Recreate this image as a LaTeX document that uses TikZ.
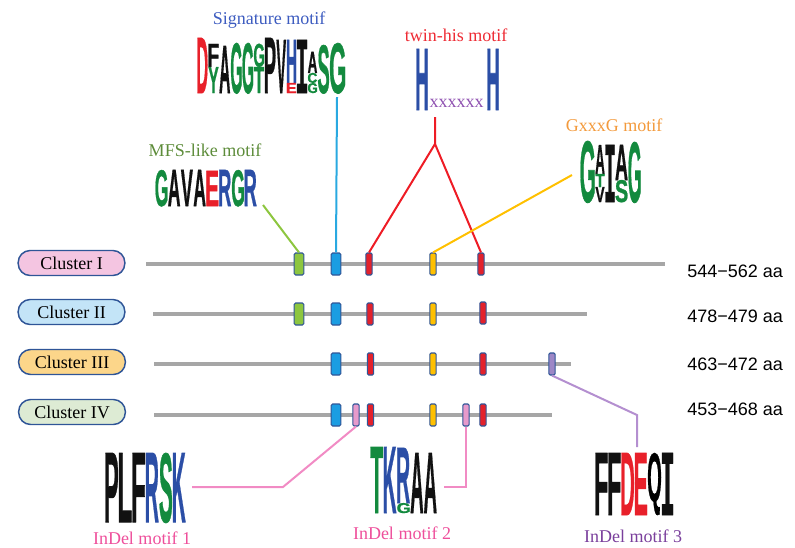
\documentclass[tikz,border=0pt]{standalone}
\usepackage{fontspec}
\usepackage{graphicx}
\setmainfont{Liberation Serif}
\newfontfamily\lsans{Liberation Sans}
\newfontfamily\lheavy{Liberation Sans}[FakeBold=1]
\newfontfamily\lmono{Liberation Mono}[FakeBold=1]
\newlength\pxu
\setlength\pxu{0.75pt}
\newsavebox\qbox
\definecolor{boxborder}{HTML}{2F5597}
\definecolor{graybar}{HTML}{A6A6A6}
\definecolor{mgreen}{HTML}{8DC63F}
\definecolor{mblue}{HTML}{1B9DE2}
\definecolor{mred}{HTML}{E3212B}
\definecolor{myellow}{HTML}{FFC000}
\definecolor{mpink}{HTML}{E79ACB}
\definecolor{mpurple}{HTML}{9D87C6}
\definecolor{lngreen}{HTML}{8DC63F}
\definecolor{lnblue}{HTML}{29A9E1}
\definecolor{lnred}{HTML}{EE1C25}
\definecolor{lnyellow}{HTML}{FFC000}
\definecolor{lnpink}{HTML}{F18BC4}
\definecolor{lnpurple}{HTML}{B48FD0}
\definecolor{cI}{HTML}{F4C5E1}
\definecolor{cII}{HTML}{C3E4F7}
\definecolor{cIII}{HTML}{FCD68A}
\definecolor{cIV}{HTML}{DDEBD4}
\definecolor{lgreen}{HTML}{138A3E}
\definecolor{lblue}{HTML}{2B4EA6}
\definecolor{lred}{HTML}{E8202A}
\definecolor{lblack}{HTML}{111111}
\definecolor{lpurple}{HTML}{7B2787}
\definecolor{tsig}{HTML}{3D5CC0}
\definecolor{ttwin}{HTML}{EE2B34}
\definecolor{tgx}{HTML}{F39A3C}
\definecolor{tmfs}{HTML}{5D8C3A}
\definecolor{tpink}{HTML}{EE4F9B}
\definecolor{tpurple}{HTML}{7A3F9C}
\definecolor{xpurple}{HTML}{8E50B0}
% a stretched logo letter, side bearings trimmed
\newcommand\LT[4]{\hbox to #2\pxu{\hss\textcolor{#1}{\resizebox{\dimexpr#2\pxu-1\pxu\relax}{#3\pxu}{\lheavy\bfseries\kern-\XeTeXglyphbounds1 \XeTeXcharglyph`#4 #4\kern-\XeTeXglyphbounds3 \XeTeXcharglyph`#4 }}\hss}}
\newcommand\LI[4]{\hbox to #2\pxu{\hss\textcolor{#1}{\resizebox{\dimexpr#2\pxu-1\pxu\relax}{#3\pxu}{\lmono\bfseries\kern-\XeTeXglyphbounds1 \XeTeXcharglyph`#4 #4\kern-\XeTeXglyphbounds3 \XeTeXcharglyph`#4 }}\hss}}
\newcommand\LQ[4]{\sbox\qbox{\resizebox*{\dimexpr#2\pxu-1\pxu\relax}{#3\pxu}{\lheavy\bfseries\kern-\XeTeXglyphbounds1 \XeTeXcharglyph`#4 #4\kern-\XeTeXglyphbounds3 \XeTeXcharglyph`#4 }}\hbox to #2\pxu{\hss\textcolor{#1}{\raisebox{\dp\qbox}{\usebox\qbox}}\hss}}
\newcommand\CL[1]{\vbox{\offinterlineskip #1}}
\tikzset{
  pill/.style={draw=boxborder, line width=1.1pt, rounded corners=9pt, minimum width=80pt, minimum height=18.75pt, inner sep=0pt, font=\fontsize{13.5}{15}\selectfont},
  bar/.style={draw=graybar, line width=3pt},
  wbox/.style={draw=boxborder, line width=0.8pt, rounded corners=1pt, minimum width=7.2pt, minimum height=16.5pt, inner sep=0pt},
  nbox/.style={draw=boxborder, line width=0.8pt, rounded corners=1pt, minimum width=4.8pt, minimum height=16.5pt, inner sep=0pt},
  logo/.style={anchor=base west, inner sep=0pt, outer sep=0pt},
  mtext/.style={inner sep=0pt, font=\fontsize{13.5}{15}\selectfont},
  aatext/.style={anchor=west, inner sep=0pt, font=\lsans\fontsize{13.5}{15}\selectfont},
  conn/.style={line width=1.5pt}
}
\begin{document}
\begin{tikzpicture}[x=0.75pt,y=-0.75pt]
\useasboundingbox (0,0) rectangle (795,547);
% cluster pills
\node[pill, fill=cI] (cl1) at (71.5,263) {Cluster I};
\node[pill, fill=cII] (cl2) at (71.5,312) {Cluster II};
\node[pill, fill=cIII] (cl3) at (72,362) {Cluster III};
\node[pill, fill=cIV] (cl4) at (72,412) {Cluster IV};
% gray bars
\draw[bar] (146,264) -- (665,264);
\draw[bar] (153,314) -- (587,314);
\draw[bar] (154,364) -- (571,364);
\draw[bar] (154,415) -- (552,415);
% lengths
\node[aatext] (aa1) at (687,271) {544−562 aa};
\node[aatext] (aa2) at (687,316) {478−479 aa};
\node[aatext] (aa3) at (687,364) {463−472 aa};
\node[aatext] (aa4) at (687,409) {453−468 aa};
% row I boxes
\node[wbox, fill=mgreen] (g1) at (299,264) {};
\node[wbox, fill=mblue] (b1) at (336,264) {};
\node[nbox, fill=mred] (r1a) at (369,264) {};
\node[nbox, fill=myellow] (y1) at (433,264) {};
\node[nbox, fill=mred] (r2a) at (481,264) {};
% row II
\node[wbox, fill=mgreen] (g2) at (299,314) {};
\node[wbox, fill=mblue] (b2) at (336,314) {};
\node[nbox, fill=mred] (r1b) at (370,314) {};
\node[nbox, fill=myellow] (y2) at (433,314) {};
\node[nbox, fill=mred] (r2b) at (483,313) {};
% row III
\node[wbox, fill=mblue] (b3) at (336,364) {};
\node[nbox, fill=mred] (r1c) at (370.5,364) {};
\node[nbox, fill=myellow] (y3) at (433,364) {};
\node[nbox, fill=mred] (r2c) at (483,364) {};
\node[nbox, fill=mpurple] (pu) at (552,364) {};
% row IV
\node[wbox, fill=mblue] (b4) at (336,415) {};
\node[nbox, fill=mpink] (p1) at (356,415) {};
\node[nbox, fill=mred] (r1d) at (370.5,415) {};
\node[nbox, fill=myellow] (y4) at (433,415) {};
\node[nbox, fill=mpink] (p2) at (466,415) {};
\node[nbox, fill=mred] (r2d) at (483,415) {};
% titles
\node[mtext, text=tsig] (sigt) at (269,20) {Signature motif};
\node[mtext, text=ttwin] (twint) at (456,35) {twin-his motif};
\node[mtext, text=tgx] (gxt) at (614,125) {GxxxG motif};
\node[mtext, text=tmfs] (mfst) at (205,150) {MFS-like motif};
\node[mtext, text=tpink] (in1t) at (142,538) {InDel motif 1};
\node[mtext, text=tpink] (in2t) at (402,533) {InDel motif 2};
\node[mtext, text=tpurple] (in3t) at (633,536) {InDel motif 3};
% logos
\node[logo] (sig) at (197,93) {\LT{lred}{11}{55}{D}%
\CL{\hbox{\LT{lblack}{11}{23}{F}}\hbox{\LT{lgreen}{11}{26}{Y}}}%
\LT{lblack}{11.5}{47}{A}%
\LT{lgreen}{11.5}{50}{G}%
\LT{lgreen}{11.5}{50}{G}%
\CL{\hbox{\LT{lgreen}{11}{23}{G}}\hbox{\LT{lgreen}{11}{26}{T}}}%
\LT{lblack}{11.5}{55}{P}%
\LT{lblack}{10.5}{53}{V}%
\CL{\hbox{\LT{lblue}{10}{43}{H}}\hbox{\LT{lred}{10}{10}{E}}}%
\LI{lblack}{11}{53}{I}%
\CL{\hbox{\LT{lblack}{10}{21}{A}}\hbox{\LT{lgreen}{10}{10}{C}}\hbox{\LT{lgreen}{10}{10}{G}}}%
\LT{lgreen}{12}{48}{S}%
\LT{lgreen}{16}{50}{G}};
\node[logo] (mfs) at (155,206) {\LT{lgreen}{12.75}{36}{G}%
\LT{lblack}{12.75}{36}{A}%
\LT{lblack}{12.75}{36}{V}%
\LT{lblack}{12.75}{36}{A}%
\LT{lred}{12.75}{35}{E}%
\LT{lblue}{12.75}{36}{R}%
\LT{lgreen}{12.75}{36}{G}%
\LT{lblue}{12.75}{36}{R}};
\node[logo] (gxg) at (580,202) {\LT{lgreen}{15}{61}{G}%
\CL{\hbox{\LT{lblack}{10}{29}{A}}\hbox{\LT{lgreen}{10}{13}{T}}\hbox{\LT{lblack}{10}{15}{V}}}%
\LI{lblack}{10}{57}{I}%
\CL{\hbox{\LT{lblack}{13}{35}{A}}\hbox{\LT{lgreen}{13}{22}{S}}}%
\LT{lgreen}{13}{60}{G}};
\node[logo] (hisl) at (416,110) {\LT{lblue}{12}{61}{H}};
\node[logo] (hisr) at (487,110) {\LT{lblue}{12}{61}{H}};
\node[logo, text=xpurple, font=\fontsize{13.5}{15}\selectfont] (hisx) at (429.5,107) {xxxxxx};
\node[logo] (plf) at (105,522) {\LT{lblack}{13.5}{69}{P}%
\LT{lblack}{13.5}{69}{L}%
\LT{lblack}{13.5}{69}{F}%
\LT{lblue}{13.5}{69}{R}%
\LT{lgreen}{13.5}{69}{S}%
\LT{lblue}{13.5}{69}{K}};
\node[logo] (tkr) at (370,513) {\LT{lgreen}{13.4}{66}{T}%
\LT{lblue}{13.4}{66}{K}%
\CL{\hbox{\LT{lblue}{13.4}{55}{R}}\hbox{\LT{lgreen}{13.4}{10}{G}}}%
\LT{lblack}{13.4}{60}{A}%
\LT{lblack}{13.4}{60}{A}};
\node[logo] (ffd) at (595,515) {\LT{lblack}{13}{62}{F}%
\LT{lblack}{13}{62}{F}%
\LT{lred}{13.5}{62}{D}%
\LT{lred}{13}{62}{E}%
\LQ{lpurple}{14}{62}{Q}%
\LI{lblack}{12}{62}{I}};
% connector end points
\coordinate (mfsend) at (263,205);
\coordinate (sigend) at (337,97);
\coordinate (histop) at (435,117);
\coordinate (hisj) at (435,144);
\coordinate (gxend) at (572,175);
\coordinate (pk1) at (283,487);
\coordinate (pk1end) at (192,487);
\coordinate (pk2) at (466,487);
\coordinate (pk2end) at (444,487);
\coordinate (pu1) at (637,415);
\coordinate (pu1end) at (637,447);
% connectors
\draw[conn, lngreen] (g1.north) -- (mfsend);
\draw[conn, lnblue] (b1.north) -- (sigend);
\draw[conn, lnred] (histop) -- (hisj) -- (r1a.north);
\draw[conn, lnred] (hisj) -- (r2a.north);
\draw[conn, lnyellow] (y1.north) -- (gxend);
\draw[conn, lnpink] (p1.south) -- (pk1) -- (pk1end);
\draw[conn, lnpink] (p2.south) -- (pk2) -- (pk2end);
\draw[conn, lnpurple] (pu.south) -- (pu1) -- (pu1end);
\end{tikzpicture}
\end{document}
